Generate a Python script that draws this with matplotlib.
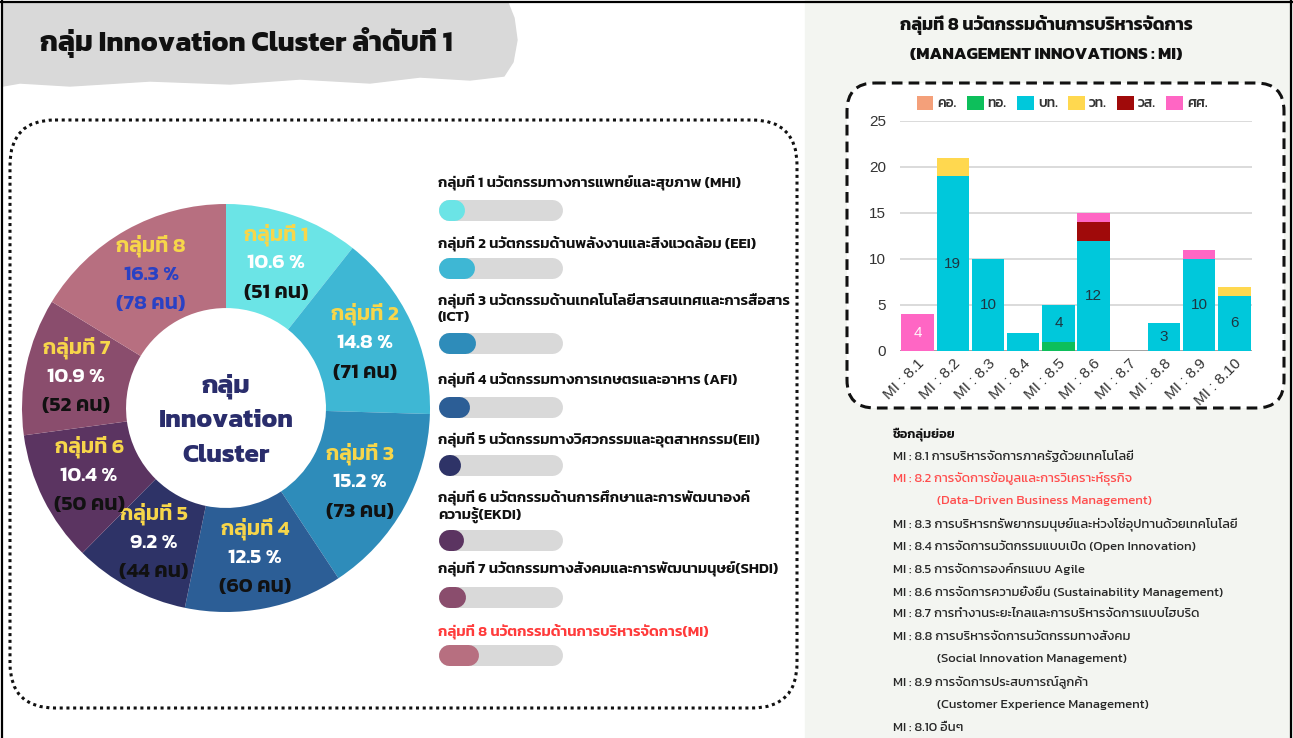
import numpy as np
import matplotlib
matplotlib.use("Agg")
import matplotlib.pyplot as plt
from matplotlib.patches import FancyBboxPatch, Rectangle, Polygon

W, H = 1293, 738
FONT = ["Kanit", "DejaVu Sans"]
NUMFONT = ["Liberation Sans", "DejaVu Sans"]

# ---- donut data (Innovation Cluster groups)
group_titles = ["กลุ่มที่ 1", "กลุ่มที่ 2", "กลุ่มที่ 3", "กลุ่มที่ 4",
                "กลุ่มที่ 5", "กลุ่มที่ 6", "กลุ่มที่ 7", "กลุ่มที่ 8"]
group_pct = [10.6, 14.8, 15.2, 12.5, 9.2, 10.4, 10.9, 16.3]
group_people = [51, 71, 73, 60, 44, 50, 52, 78]
group_colors = ["#6be4e6", "#3eb7d4", "#2e8cba", "#2c5e96",
                "#2e3367", "#5b3461", "#8a4d6d", "#b76f80"]
group_names = [
    ["กลุ่มที่ 1 นวัตกรรมทางการแพทย์และสุขภาพ (MHI)"],
    ["กลุ่มที่ 2 นวัตกรรมด้านพลังงานและสิ่งแวดล้อม (EEI)"],
    ["กลุ่มที่ 3 นวัตกรรมด้านเทคโนโลยีสารสนเทศและการสื่อสาร", "(ICT)"],
    ["กลุ่มที่ 4 นวัตกรรมทางการเกษตรและอาหาร (AFI)"],
    ["กลุ่มที่ 5 นวัตกรรมทางวิศวกรรมและอุตสาหกรรม(EII)"],
    ["กลุ่มที่ 6 นวัตกรรมด้านการศึกษาและการพัฒนาองค์", "ความรู้(EKDI)"],
    ["กลุ่มที่ 7 นวัตกรรมทางสังคมและการพัฒนามนุษย์(SHDI)"],
    ["กลุ่มที่ 8 นวัตกรรมด้านการบริหารจัดการ(MI)"],
]

# ---- MI sub-group chart data
mi_labels = ["MI : 8.1", "MI : 8.2", "MI : 8.3", "MI : 8.4", "MI : 8.5",
             "MI : 8.6", "MI : 8.7", "MI : 8.8", "MI : 8.9", "MI : 8.10"]
faculties = ["คอ.", "ทอ.", "บท.", "วท.", "วส.", "ศศ."]
fac_colors = ["#f4a07a", "#0dbf5b", "#00c8db", "#ffd84f", "#a00a0a", "#ff66c4"]
ko = [0, 0, 0, 0, 0, 0, 0, 0, 0, 0]
to = [0, 0, 0, 0, 1, 0, 0, 0, 0, 0]
bt = [0, 19, 10, 2, 4, 12, 0, 3, 10, 6]
wt = [0, 2, 0, 0, 0, 0, 0, 0, 0, 1]
ws = [0, 0, 0, 0, 0, 2, 0, 0, 0, 0]
ss = [4, 0, 0, 0, 0, 1, 0, 0, 1, 0]

sub_lines = [
    ("MI : 8.1 การบริหารจัดการภาครัฐด้วยเทคโนโลยี", 0),
    ("MI : 8.2 การจัดการข้อมูลและการวิเคราะห์ธุรกิจ", 0),
    ("(Data-Driven Business Management)", 1),
    ("MI : 8.3 การบริหารทรัพยากรมนุษย์และห่วงโซ่อุปทานด้วยเทคโนโลยี", 0),
    ("MI : 8.4 การจัดการนวัตกรรมแบบเปิด (Open Innovation)", 0),
    ("MI : 8.5 การจัดการองค์กรแบบ Agile", 0),
    ("MI : 8.6 การจัดการความยั่งยืน (Sustainability Management)", 0),
    ("MI : 8.7 การทำงานระยะไกลและการบริหารจัดการแบบไฮบริด", 0),
    ("MI : 8.8 การบริหารจัดการนวัตกรรมทางสังคม", 0),
    ("(Social Innovation Management)", 1),
    ("MI : 8.9 การจัดการประสบการณ์ลูกค้า", 0),
    ("(Customer Experience Management)", 1),
    ("MI : 8.10 อื่นๆ", 0),
]

fig = plt.figure(figsize=(W / 100, H / 100), dpi=100)
R = fig.canvas.get_renderer()

# background canvas in pixel coordinates
bg = fig.add_axes([0, 0, 1, 1])
bg.set_xlim(0, W)
bg.set_ylim(H, 0)
bg.axis("off")


def fitted(ax, x, y, s, width, size=12, **kw):
    t = ax.text(x, y, s, fontsize=size, family=FONT, **kw)
    w = t.get_window_extent(renderer=R).width
    t.set_fontsize(size * width / w)
    return t


def size_for(s, width, size=12, **kw):
    t = bg.text(0, 0, s, fontsize=size, family=FONT, **kw)
    w = t.get_window_extent(renderer=R).width
    t.remove()
    return size * width / w


# right panel background
bg.add_patch(Rectangle((805, 0), W - 805, H, color="#f3f5f1", zorder=0))
# title brush area
bg.add_patch(Polygon([(3, 3), (508, 3), (514, 18), (517, 40), (513, 62), (504, 76),
                      (470, 80), (420, 77), (370, 83), (300, 79), (230, 84),
                      (150, 81), (70, 86), (20, 83), (3, 86)],
                     closed=True, color="#d9d9d9", zorder=1))
# frame
bg.plot([2, 2], [0, H], color="black", lw=1.6, zorder=5)
bg.plot([0, W], [2, 2], color="black", lw=1.6, zorder=5)
bg.plot([W - 2, W - 2], [0, H], color="black", lw=1.6, zorder=5)

fitted(bg, 40, 42, "กลุ่ม Innovation Cluster ลำดับที่ 1", 412, size=24,
       weight="bold", va="center", ha="left", color="#111111", zorder=3)

# dotted box around donut panel
bg.add_patch(FancyBboxPatch((10, 120), 787, 588,
                            boxstyle="round,pad=0,rounding_size=45",
                            fc="none", ec="#111111", lw=2.2, ls=(0, (1, 1.2)), zorder=2))

# ---- donut
dax = fig.add_axes([22 / W, (H - 612) / H, 408 / W, 408 / H])
wedges, _ = dax.pie(group_people, colors=group_colors, startangle=90,
                    counterclock=False, radius=1,
                    wedgeprops=dict(width=0.51, edgecolor="none"))
dax.set_xlim(-1, 1)
dax.set_ylim(-1, 1)
dax.axis("off")

lab_size = size_for("10.6 %", 58, weight="semibold")
for i, w in enumerate(wedges):
    mid = np.deg2rad((w.theta1 + w.theta2) / 2)
    x, y = 0.75 * np.cos(mid), 0.75 * np.sin(mid)
    val_col = "#2a41c4" if i == 7 else "white"
    cnt_col = "#2a41c4" if i == 7 else "#111111"
    rows = [(group_titles[i], "#f7d64a"),
            (f"{group_pct[i]} %", val_col),
            (f"({group_people[i]} คน)", cnt_col)]
    for k, (s, c) in enumerate(rows):
        dax.annotate(s, (x, y), xytext=(0, 21 * (1 - k)), textcoords="offset points",
                     ha="center", va="center", color=c, fontsize=lab_size,
                     family=FONT, weight="semibold")

for s, yy in [("กลุ่ม", 386), ("Innovation", 421), ("Cluster", 456)]:
    bg.text(226, yy, s, ha="center", va="center", fontsize=size_for("Innovation", 136, weight="bold"),
            family=FONT, weight="bold", color="#2a2d6c", zorder=3)

# ---- group list with progress bars
name_rows = [[183], [243], [300, 318], [380], [440], [497, 515], [569], [631]]
bar_rows = [210, 268, 343, 407, 465, 540, 597, 655]
name_size = size_for(group_names[2][0], 352, weight="semibold")
for i, lines in enumerate(group_names):
    col = "#ff3b3b" if i == 7 else "#111111"
    for s, yy in zip(lines, name_rows[i]):
        bg.text(438, yy, s, ha="left", va="center", fontsize=name_size,
                family=FONT, weight="semibold", color=col, zorder=3)

pax = fig.add_axes([438 / W, 0, 124 / W, 1])
pax.set_xlim(0, 50)
pax.set_ylim(H, 0)
pax.axis("off")
cap = 10.5 / (124 / 50)
lw_pt = 21 * 0.72
for i, yy in enumerate(bar_rows):
    pax.plot([cap, 50 - cap], [yy, yy], color="#d9d9d9", lw=lw_pt,
             solid_capstyle="round", clip_on=False)
    pax.plot([cap, max(group_pct[i] - cap, cap)], [yy, yy], color=group_colors[i],
             lw=lw_pt, solid_capstyle="round", clip_on=False)

# ---- right panel
fitted(bg, 1046, 25, "กลุ่มที่ 8 นวัตกรรมด้านการบริหารจัดการ", 294, size=14,
       weight="bold", ha="center", va="center", color="#111111", zorder=3)
fitted(bg, 1046, 55, "(MANAGEMENT INNOVATIONS : MI)", 273, size=14,
       weight="bold", ha="center", va="center", color="#111111", zorder=3)

bg.add_patch(FancyBboxPatch((847, 83), 437, 325,
                            boxstyle="round,pad=0,rounding_size=28",
                            fc="white", ec="#111111", lw=2.2, ls=(0, (3.5, 2)), zorder=2))

cax = fig.add_axes([900 / W, (H - 351) / H, 352 / W, 230 / H])
cax.set_facecolor("none")
xpos = np.arange(len(mi_labels))
bottom = np.zeros(len(mi_labels))
series = [ko, to, bt, wt, ws, ss]
handles = []
for name, vals, c in zip(faculties, series, fac_colors):
    cont = cax.bar(xpos, vals, 0.92, bottom=bottom, color=c, label=name, zorder=3)
    handles.append(cont)
    if name in ("บท.", "ศศ."):
        txtc = "#1d3642" if name == "บท." else "#fff4fa"
        cax.bar_label(cont, labels=[str(v) if v >= 3 else "" for v in vals],
                      label_type="center", fontsize=11, color=txtc, family=NUMFONT)
    bottom += np.array(vals)

cax.set_xlim(-0.5, len(mi_labels) - 0.5)
cax.set_ylim(0, 25)
cax.set_yticks([0, 5, 10, 15, 20, 25])
cax.grid(axis="y", color="#d4d4d4", lw=1.2, zorder=0)
cax.axhline(0, color="#9a9a9a", lw=1.2, zorder=2)
for sp in cax.spines.values():
    sp.set_visible(False)
cax.tick_params(length=0, labelsize=11, colors="#333333", pad=10)
cax.set_xticks(xpos)
cax.set_xticklabels(mi_labels, rotation=45, ha="right", rotation_mode="anchor",
                    family=NUMFONT, fontsize=11)
for t in cax.get_yticklabels():
    t.set_family(NUMFONT)
cax.tick_params(axis="x", pad=4)

fig.legend(handles=handles, labels=faculties, loc="center", ncol=6,
           bbox_to_anchor=(1062 / W, 1 - 103 / H), frameon=False,
           prop=dict(family=FONT, size=10, weight="medium"),
           handlelength=1.2, handleheight=1.2, handletextpad=0.3,
           columnspacing=0.75, labelcolor="#333333")

# sub-group name list
bg.text(893, 434, "ชื่อกลุ่มย่อย", ha="left", va="center", family=FONT,
        weight="semibold", fontsize=size_for("ชื่อกลุ่มย่อย", 62, weight="semibold"),
        color="#111111", zorder=3)
sub_size = size_for(sub_lines[3][0], 342, weight="normal")
for k, (s, ind) in enumerate(sub_lines):
    col = "#ff4d4d" if k in (1, 2) else "#262626"
    bg.text(893 + 44 * ind, 456 + 22.6 * k, s, ha="left", va="center", family=FONT,
            weight="normal", fontsize=sub_size, color=col, zorder=3)

fig.savefig("out.png", dpi=100)
